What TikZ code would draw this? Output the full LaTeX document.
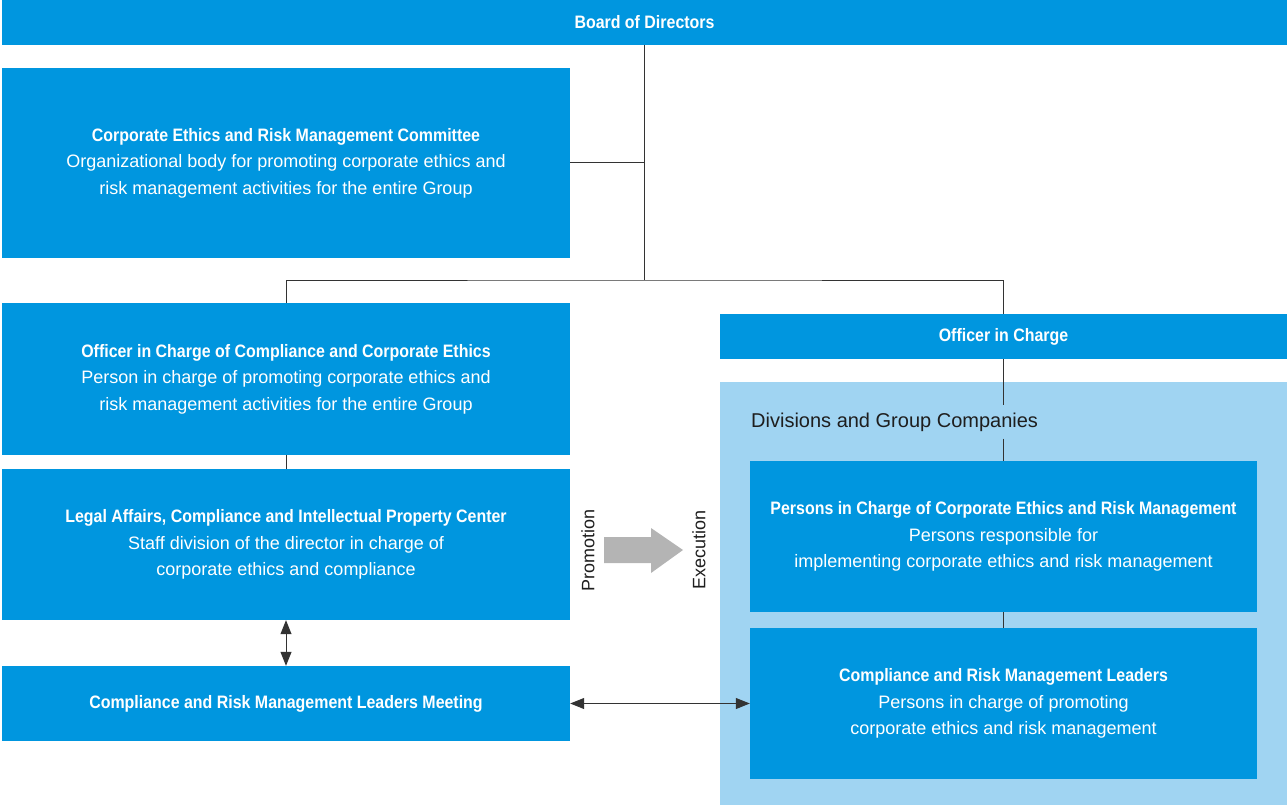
\documentclass[tikz,border=0pt]{standalone}
\usepackage{fontspec}
\setmainfont{Liberation Sans}[BoldFeatures={FakeStretch=0.886}]
\usetikzlibrary{arrows.meta,positioning}
\definecolor{orgblue}{RGB}{0,150,223}
\definecolor{divblue}{RGB}{160,212,242}
\definecolor{promogray}{RGB}{180,180,180}
\definecolor{textdark}{RGB}{30,30,30}

\tikzset{
  box/.style={fill=orgblue, text=white, align=center, inner sep=0pt,
    font=\fontsize{18}{26.5}\selectfont},
  link/.style={draw=black!80, line width=1pt},
  twoway/.style={link, {Triangle[length=14pt,width=11pt]}-{Triangle[length=14pt,width=11pt]}},
  sidetext/.style={text=textdark, inner sep=0pt, font=\fontsize{18}{26.5}\selectfont},
}

\begin{document}
\begin{tikzpicture}[x=1pt,y=-1pt]
  \useasboundingbox (0,0) rectangle (1287,805);

  % left column
  \node[box, minimum width=1285pt, minimum height=45pt] (board) at (644.5,22.5) {\textbf{Board of Directors}};
  \node[box, minimum width=568pt, minimum height=190pt] (committee) at (286,163)
    {\textbf{Corporate Ethics and Risk Management Committee}\\
     Organizational body for promoting corporate ethics and\\
     risk management activities for the entire Group};
  \node[box, minimum width=568pt, minimum height=152pt] (officer) at (286,379)
    {\textbf{Officer in Charge of Compliance and Corporate Ethics}\\
     Person in charge of promoting corporate ethics and\\
     risk management activities for the entire Group};
  \node[box, minimum width=568pt, minimum height=151pt] (legal) at (286,544.5)
    {\textbf{Legal Affairs, Compliance and Intellectual Property Center}\\
     Staff division of the director in charge of\\
     corporate ethics and compliance};
  \node[box, minimum width=568pt, minimum height=75pt] (meeting) at (286,703.5)
    {\textbf{Compliance and Risk Management Leaders Meeting}};

  % right column
  \node[box, minimum width=567pt, minimum height=45pt] (incharge) at (1003.5,336.5) {\textbf{Officer in Charge}};
  \node[fill=divblue, minimum width=567pt, minimum height=423pt, inner sep=0pt] (divisions) at (1003.5,593.5) {};
  \node[sidetext, anchor=west, inner ysep=7pt, font=\fontsize{20}{26.5}\selectfont] (divlabel) at (751,422) {Divisions and Group Companies};
  \node[box, minimum width=507pt, minimum height=151pt] (persons) at (1003.5,536.5)
    {\textbf{Persons in Charge of Corporate Ethics and Risk Management}\\
     Persons responsible for\\
     implementing corporate ethics and risk management};
  \node[box, minimum width=507pt, minimum height=151pt] (leaders) at (1003.5,703.5)
    {\textbf{Compliance and Risk Management Leaders}\\
     Persons in charge of promoting\\
     corporate ethics and risk management};

  % promotion / execution
  \fill[promogray] (604,537) -- (651,537) -- (651,528) -- (683,550)
    -- (651,573) -- (651,563) -- (604,563) -- cycle;
  \node[sidetext, rotate=90] (promo) at (588,550) {Promotion};
  \node[sidetext, rotate=90] (exec) at (699,550) {Execution};

  % connectors
  \draw[link] (board.south) -- (board.south |- 0,280) coordinate (split);
  \draw[link] (committee.east) -| (split);
  \draw[link] (officer.north) |- (split) -| (incharge.north);
  \draw[link] (officer.south) -- (legal.north);
  \draw[link] (incharge.south) -- (divlabel.north -| incharge.south);
  \draw[link] (divlabel.south -| persons.north) -- (persons.north);
  \draw[link] (persons.south) -- (leaders.north);
  \draw[twoway] (legal.south) -- (meeting.north);
  \draw[twoway] (meeting.east) -- (leaders.west);
\end{tikzpicture}
\end{document}
